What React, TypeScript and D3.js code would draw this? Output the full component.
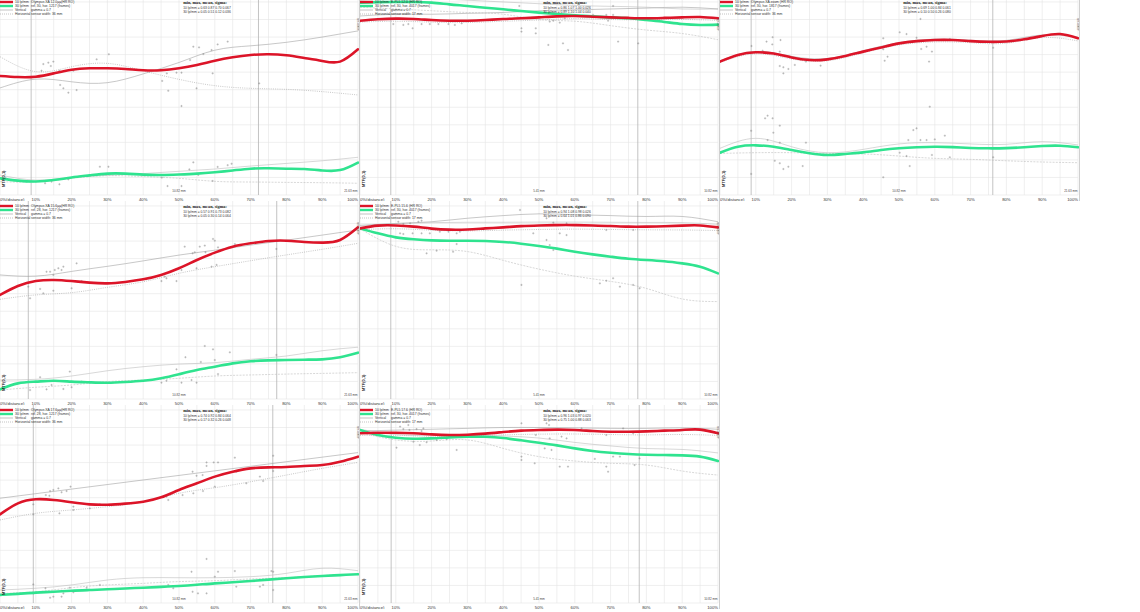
import React from "react";
import * as d3 from "d3";

// ---------- shared axes ----------
const X21 = [0, 5, 10, 15, 20, 25, 30, 35, 40, 45, 50, 55, 60, 65, 70, 75, 80, 85, 90, 95, 100];
const X11 = [0, 10, 20, 30, 40, 50, 60, 70, 80, 90, 100];
const X_GRID = X21;
const Y_GRID = [0, 0.1, 0.2, 0.3, 0.4, 0.5, 0.6, 0.7, 0.8, 0.9, 1.0, 1.1];
const X_TICKS = [0, 10, 20, 30, 40, 50, 60, 70, 80, 90, 100];
const X_TICK_LABELS = ["0%(distance)", "10%", "20%", "30%", "40%", "50%", "60%", "70%", "80%", "90%", "100%"];
const LEGEND_ITEMS = ["10 lp/mm", "30 lp/mm", "Vertical", "Horizontal"];
const STATS_TITLE = "min, max, mean, sigma:";

// ---------- panel 1 ----------
const p1Red = [0.678, 0.672, 0.674, 0.693, 0.714, 0.722, 0.722, 0.718, 0.711, 0.711, 0.722, 0.741, 0.765, 0.785, 0.798, 0.802, 0.796, 0.781, 0.764, 0.76, 0.83];
const p1Green = [0.095, 0.082, 0.077, 0.085, 0.1, 0.112, 0.122, 0.122, 0.116, 0.114, 0.117, 0.122, 0.13, 0.14, 0.15, 0.152, 0.15, 0.148, 0.14, 0.142, 0.185];
const p1RedV = [0.61, 0.66, 0.645, 0.64, 0.69, 0.755, 0.825, 0.85, 0.87, 0.9, 0.935];
const p1RedH = [0.788, 0.703, 0.731, 0.75, 0.708, 0.659, 0.623, 0.608, 0.602, 0.589, 0.57];
const p1GreenV = [0.114, 0.085, 0.1, 0.112, 0.122, 0.135, 0.148, 0.165, 0.18, 0.195, 0.215];
const p1GreenH = [0.076, 0.075, 0.095, 0.11, 0.105, 0.095, 0.078, 0.074, 0.072, 0.07, 0.067];
const p1RedPts = [[12.1, 0.746], [13.5, 0.754], [14.9, 0.76], [11.6, 0.708], [14.2, 0.735], [16.6, 0.708], [16.8, 0.627], [17.7, 0.608], [19.1, 0.583], [21.4, 0.598], [20.5, 0.708], [27, 0.773], [30.4, 0.802], [45.3, 0.65], [47, 0.594], [46.6, 0.693], [49.3, 0.697], [50.7, 0.697], [54, 0.845], [55.6, 0.841], [56.8, 0.803], [59.1, 0.826], [60.8, 0.858], [63.6, 0.874], [53.1, 0.769], [54.9, 0.608], [59.4, 0.693], [72.4, 0.636]];
const p1GreenPts = [[12.6, 0.067], [14.4, 0.076], [16.6, 0.061], [19.1, 0.089], [27.9, 0.161], [30.3, 0.161], [45.2, 0.099], [46.8, 0.051], [50.7, 0.507], [54, 0.186], [52.9, 0.146], [55.4, 0.114], [59.4, 0.08], [60.8, 0.16], [63.6, 0.17], [64.7, 0.178], [50.7, 0.051]];
const p1Marks = [8.7, 72.2];
const p1Text = ["Olympus XA 12.0µµ(HR RO)", "ref. 30, hor. 1217 (frames)", "gamma = 0.7", "sensor width: 36 mm"];
const p1Stats = ["10 lp/mm = 0.63 0.87 0.70 0.067", "30 lp/mm = 0.05 0.51 0.12 0.036"];
const p1Mm = ["10.82 mm", "21.63 mm", "ref.=MTF"];

// ---------- panel 2 ----------
const p2Red = [0.993, 1.001, 1.005, 1.003, 0.997, 0.993, 0.993, 0.997, 1.003, 1.007, 1.012, 1.018, 1.02, 1.016, 1.012, 1.009, 1.007, 1.009, 1.012, 1.014, 1.007];
const p2Green = [1.096, 1.099, 1.1, 1.1, 1.096, 1.086, 1.077, 1.067, 1.058, 1.048, 1.039, 1.031, 1.024, 1.018, 1.012, 1.007, 0.997, 0.986, 0.974, 0.969, 0.971];
const p2RedV = [1.02, 1.03, 1.03, 1.035, 1.04, 1.05, 1.055, 1.06, 1.065, 1.07, 1.06];
const p2RedH = [0.985, 0.99, 0.985, 0.983, 0.99, 0.997, 1.005, 1.0, 0.998, 1.0, 0.995];
const p2GreenV = [1.11, 1.12, 1.12, 1.11, 1.1, 1.09, 1.08, 1.075, 1.07, 1.06, 1.06];
const p2GreenH = [1.07, 1.06, 1.05, 1.04, 1.03, 1.0, 0.99, 0.965, 0.94, 0.92, 0.885];
const p2RedPts = [[9.3, 0.974], [12.1, 0.969], [13.5, 0.974], [14.7, 0.95], [17.2, 0.974], [19.5, 0.974], [21.9, 0.974], [24.7, 0.974], [26.5, 0.969], [28.4, 0.978], [45.1, 0.95], [45.1, 0.931], [49.1, 0.95], [49.1, 0.921], [52.6, 0.855], [56.7, 0.864], [58.1, 0.826], [53, 0.988], [54, 0.993], [55.8, 0.982], [57.2, 1.007], [65.1, 1.026], [68.8, 1.026], [69.3, 0.993], [70.7, 1.026], [72.1, 0.874], [76.3, 1.007], [77.7, 0.864]];
const p2GreenPts = [[70.7, 1.077], [44.5, 1.077]];
const p2Marks = [8.6, 77.6];
const p2Text = ["E-PL5 12.0 (HR RO)", "ref. 30, hor. 4017 (frames)", "gamma = 0.7", "sensor width: 17 mm"];
const p2Stats = ["10 lp/mm = 0.86 1.07 1.00 0.026", "30 lp/mm = 0.89 1.10 1.04 0.040"];
const p2Mm = ["5.41 mm", "10.82 mm", "ref.=MTF"];

// ---------- panel 3 ----------
const p3Red = [0.76, 0.798, 0.813, 0.806, 0.784, 0.769, 0.773, 0.792, 0.817, 0.841, 0.864, 0.877, 0.883, 0.883, 0.877, 0.873, 0.875, 0.887, 0.906, 0.917, 0.893];
const p3Green = [0.241, 0.275, 0.283, 0.275, 0.256, 0.238, 0.228, 0.234, 0.243, 0.256, 0.266, 0.272, 0.275, 0.273, 0.268, 0.266, 0.267, 0.272, 0.279, 0.281, 0.272];
const p3RedV = [0.765, 0.818, 0.79, 0.778, 0.822, 0.868, 0.888, 0.882, 0.881, 0.912, 0.898];
const p3RedH = [0.755, 0.805, 0.775, 0.765, 0.81, 0.855, 0.872, 0.868, 0.865, 0.897, 0.878];
const p3GreenV = [0.266, 0.323, 0.275, 0.241, 0.26, 0.291, 0.298, 0.291, 0.289, 0.304, 0.285];
const p3GreenH = [0.237, 0.241, 0.241, 0.237, 0.234, 0.222, 0.209, 0.203, 0.195, 0.188, 0.184];
const p3RedPts = [[8.8, 0.849], [11.9, 0.822], [13, 0.874], [14.7, 0.899], [16.9, 0.883], [14.6, 0.858], [16.7, 0.817], [16.7, 0.735], [17.7, 0.728], [19.1, 0.718], [17.7, 0.693], [20.3, 0.784], [20.9, 0.741], [24, 0.76], [28.1, 0.737], [45.6, 0.893], [45.6, 0.83], [46, 0.765], [46.8, 0.788], [50.2, 0.927], [52.1, 0.917], [54.9, 0.896], [56, 1.003], [56.2, 0.832], [57.7, 0.845], [58.4, 0.76], [59.2, 0.817], [64.2, 0.889], [76.3, 0.839]];
const p3GreenPts = [[8.7, 0.366], [8.7, 0.12], [12.6, 0.437], [13.3, 0.452], [14.7, 0.437], [16.7, 0.395], [14.9, 0.355], [13.3, 0.313], [16.7, 0.298], [15.3, 0.195], [16.7, 0.181], [17.7, 0.148], [19.1, 0.161], [23.1, 0.165], [24, 0.298], [45.6, 0.101], [50.2, 0.241], [52.1, 0.222], [53, 0.165], [52.6, 0.313], [54, 0.37], [54.9, 0.38], [56, 0.313], [57.7, 0.313], [59.2, 0.228], [58.6, 0.503], [60, 0.317], [62.8, 0.338], [64.2, 0.215], [76.3, 0.215]];
const p3Marks = [8.7, 76.2];
const p3Text = ["Olympus XA zoom (HR RO)", "ref. 30, hor. 1817 (frames)", "gamma = 0.7", "sensor width: 36 mm"];
const p3Stats = ["10 lp/mm = 0.69 1.00 0.84 0.061", "30 lp/mm = 0.10 0.50 0.26 0.080"];
const p3Mm = ["10.82 mm", "21.63 mm", "ref.=MTF"];

// ---------- panel 4 ----------
const p4Red = [0.593, 0.644, 0.672, 0.678, 0.672, 0.663, 0.659, 0.667, 0.682, 0.707, 0.745, 0.792, 0.834, 0.868, 0.887, 0.9, 0.902, 0.895, 0.891, 0.906, 0.978];
const p4Green = [0.055, 0.089, 0.099, 0.104, 0.099, 0.095, 0.093, 0.097, 0.104, 0.118, 0.141, 0.165, 0.184, 0.203, 0.215, 0.22, 0.222, 0.224, 0.226, 0.238, 0.264];
const p4RedV = [0.707, 0.7, 0.727, 0.756, 0.787, 0.82, 0.848, 0.877, 0.905, 0.934, 0.963];
const p4RedH = [0.568, 0.593, 0.606, 0.636, 0.668, 0.716, 0.754, 0.788, 0.821, 0.853, 0.887];
const p4GreenV = [0.108, 0.112, 0.131, 0.161, 0.184, 0.199, 0.207, 0.226, 0.245, 0.275, 0.295];
const p4GreenH = [0.051, 0.067, 0.08, 0.099, 0.108, 0.118, 0.131, 0.137, 0.142, 0.146, 0.15];
const p4RedPts = [[7.9, 0.64], [8.4, 0.574], [11.2, 0.627], [12.1, 0.602], [14.9, 0.617], [13, 0.725], [14, 0.725], [15.3, 0.735], [14.9, 0.707], [16.3, 0.745], [17.7, 0.754], [17.2, 0.735], [20, 0.631], [22.8, 0.672], [21.4, 0.773], [45.1, 0.672], [46, 0.697], [46.5, 0.688], [49.3, 0.672], [51.6, 0.868], [53.8, 0.83], [54.4, 0.836], [55.8, 0.868], [57.2, 0.874], [57.4, 0.836], [59.5, 0.912], [60, 0.902], [59.1, 0.754], [60.9, 0.864], [65.6, 0.883], [77.2, 0.855], [50.7, 0.735], [54.9, 0.745], [60.5, 0.764]];
const p4GreenPts = [[8.4, 0.051], [11.2, 0.124], [13, 0.055], [14.4, 0.08], [17.7, 0.057], [19.5, 0.156], [20, 0.067], [22.8, 0.099], [46.5, 0.104], [45.1, 0.093], [49.3, 0.169], [50.7, 0.093], [51.8, 0.238], [53.5, 0.108], [54.9, 0.093], [56.1, 0.211], [57.2, 0.302], [59.5, 0.283], [60, 0.222], [60.9, 0.142], [64.2, 0.266], [77.2, 0.251]];
const p4Marks = [7.9, 77.3];
const p4Text = ["Olympus XA 15.6µµ(HR RO)", "ref. 28, hor. 1217 (frames)", "gamma = 0.7", "sensor width: 36 mm"];
const p4Stats = ["10 lp/mm = 0.57 0.91 0.73 0.082", "30 lp/mm = 0.05 0.30 0.14 0.064"];
const p4Mm = ["10.82 mm", "21.63 mm", "ref.=MTF"];

// ---------- panel 5 ----------
const p5Red = [0.972, 0.988, 0.989, 0.982, 0.971, 0.965, 0.966, 0.972, 0.978, 0.985, 0.989, 0.991, 0.991, 0.989, 0.986, 0.982, 0.982, 0.984, 0.988, 0.989, 0.978];
const p5Green = [0.972, 0.944, 0.921, 0.91, 0.904, 0.902, 0.902, 0.9, 0.895, 0.885, 0.872, 0.857, 0.839, 0.824, 0.811, 0.799, 0.792, 0.785, 0.773, 0.754, 0.716];
const p5RedV = [0.99, 1.0, 1.01, 1.03, 1.045, 1.055, 1.05, 1.045, 1.04, 1.04, 1.01];
const p5RedH = [0.965, 0.97, 0.962, 0.958, 0.962, 0.966, 0.968, 0.966, 0.964, 0.963, 0.96];
const p5GreenV = [0.985, 1.0, 1.005, 1.007, 1.007, 1.008, 1.008, 1.007, 1.006, 1.005, 0.995];
const p5GreenH = [0.97, 0.87, 0.85, 0.84, 0.79, 0.74, 0.7, 0.67, 0.63, 0.57, 0.555];
const p5RedPts = [[10.7, 1.01], [12.1, 0.997], [14, 1.001], [16.3, 1.01], [17.2, 1.016], [11.2, 0.944], [12.1, 0.94], [14.7, 0.944], [17.2, 0.944], [19.5, 0.944], [22.3, 0.953], [24.7, 0.953], [27, 0.944], [27.9, 0.953], [48.4, 0.944], [55.8, 0.944], [57.7, 0.934], [44.7, 1.077], [52.1, 1.03], [54, 1.005], [57.7, 1.001], [68.8, 0.963], [76.3, 0.963]];
const p5GreenPts = [[27, 0.883], [21.4, 0.845], [18.6, 0.83], [26, 0.839], [45.1, 0.65], [52.1, 0.906], [53, 0.877], [54, 0.849], [68.8, 0.674], [67, 0.659], [70.7, 0.688], [72.6, 0.64], [76.3, 0.65], [78.1, 0.631]];
const p5Marks = [8.6, 77.6];
const p5Text = ["E-PL5 15.6 (HR RO)", "ref. 30, hor. 4017 (frames)", "gamma = 0.7", "sensor width: 17 mm"];
const p5Stats = ["10 lp/mm = 0.94 1.08 0.98 0.026", "30 lp/mm = 0.64 1.01 0.86 0.090"];
const p5Mm = ["5.41 mm", "10.82 mm", "ref.=MTF"];

// ---------- panel 6 ----------
const p6Red = [0.505, 0.568, 0.591, 0.587, 0.574, 0.562, 0.56, 0.566, 0.577, 0.602, 0.644, 0.682, 0.72, 0.748, 0.767, 0.773, 0.775, 0.781, 0.786, 0.805, 0.834];
const p6Green = [0.046, 0.052, 0.059, 0.064, 0.07, 0.074, 0.078, 0.083, 0.087, 0.092, 0.097, 0.104, 0.112, 0.118, 0.125, 0.133, 0.141, 0.148, 0.154, 0.159, 0.164];
const p6RedV = [0.597, 0.623, 0.649, 0.675, 0.701, 0.727, 0.753, 0.779, 0.805, 0.831, 0.857];
const p6RedH = [0.473, 0.511, 0.53, 0.549, 0.577, 0.625, 0.657, 0.691, 0.729, 0.767, 0.801];
const p6GreenV = [0.074, 0.084, 0.103, 0.131, 0.144, 0.144, 0.144, 0.15, 0.169, 0.198, 0.184];
const p6GreenH = [0.055, 0.064, 0.087, 0.103, 0.112, 0.122, 0.127, 0.137, 0.144, 0.156, 0.164];
const p6RedPts = [[9.3, 0.562], [9.3, 0.505], [12.8, 0.615], [13.8, 0.611], [14, 0.638], [14.9, 0.644], [16.3, 0.653], [17.2, 0.631], [16.6, 0.511], [18.6, 0.638], [19.7, 0.663], [20.5, 0.549], [20.5, 0.53], [25.1, 0.539], [27.9, 0.562], [47, 0.587], [46.5, 0.606], [47.6, 0.619], [51, 0.615], [53.8, 0.748], [54.9, 0.725], [56.6, 0.729], [57.7, 0.781], [57.7, 0.801], [59.7, 0.801], [60.9, 0.801], [60, 0.663], [56.7, 0.638], [54, 0.625], [65.6, 0.828], [66, 0.748], [68.8, 0.682], [72.6, 0.72], [73.5, 0.695], [76.3, 0.839], [76.3, 0.771], [76.3, 0.752]];
const p6GreenPts = [[9.3, 0.106], [9.3, 0.055], [12.7, 0.084], [14, 0.03], [14.9, 0.036], [17.2, 0.036], [17.7, 0.055], [19.5, 0.087], [20.5, 0.061], [24.2, 0.087], [27.9, 0.103], [47, 0.103], [48.4, 0.084], [53.5, 0.178], [53.8, 0.064], [54.9, 0.103], [55.3, 0.055], [57.7, 0.251], [57.7, 0.055], [60, 0.15], [60.9, 0.178], [65.6, 0.182], [66, 0.093], [72.6, 0.093], [73.5, 0.103], [75.8, 0.182], [76.3, 0.178], [76.3, 0.074]];
const p6Marks = [9.3, 76.2];
const p6Text = ["Olympus XA 17.6µµ(HR RO)", "ref. 28, hor. 1217 (frames)", "gamma = 0.7", "sensor width: 36 mm"];
const p6Stats = ["10 lp/mm = 0.74 0.92 0.84 0.064", "30 lp/mm = 0.17 0.32 0.26 0.048"];
const p6Mm = ["10.82 mm", "21.63 mm", "ref.=MTF"];

// ---------- panel 7 ----------
const p7Red = [0.967, 0.97, 0.97, 0.967, 0.961, 0.957, 0.959, 0.965, 0.974, 0.982, 0.986, 0.988, 0.986, 0.98, 0.976, 0.976, 0.978, 0.982, 0.986, 0.988, 0.967];
const p7Green = [0.986, 0.957, 0.942, 0.936, 0.938, 0.944, 0.948, 0.947, 0.94, 0.927, 0.913, 0.898, 0.881, 0.866, 0.856, 0.849, 0.845, 0.843, 0.841, 0.834, 0.809];
const p7RedV = [0.98, 0.985, 0.99, 0.995, 1.0, 1.0, 0.998, 0.995, 0.995, 0.998, 0.99];
const p7RedH = [0.955, 0.955, 0.95, 0.952, 0.958, 0.962, 0.963, 0.96, 0.958, 0.96, 0.955];
const p7GreenV = [0.99, 0.96, 0.955, 0.958, 0.952, 0.94, 0.915, 0.895, 0.88, 0.875, 0.855];
const p7GreenH = [0.972, 0.929, 0.923, 0.929, 0.881, 0.834, 0.809, 0.796, 0.786, 0.752, 0.729];
const p7RedPts = [[11.2, 1.005], [12.1, 0.991], [13.5, 1.014], [13.8, 0.986], [15.8, 0.991], [17.2, 0.98], [17.7, 0.995], [45.1, 1.024], [49.1, 0.957], [52.1, 1.024], [52.8, 1.014], [53, 0.938], [56.3, 0.948], [57.7, 0.938], [61.9, 0.995], [68.8, 0.957], [73.5, 0.995], [76.3, 0.967]];
const p7GreenPts = [[10.2, 0.885], [14.9, 0.919], [16.7, 0.9], [18.6, 0.916], [21.4, 0.929], [22.8, 0.938], [24.2, 0.934], [27, 0.872], [45.1, 0.834], [45.1, 0.815], [48.8, 0.796], [51.6, 0.881], [53.5, 0.872], [55.8, 0.777], [58.1, 0.777], [65.6, 0.821], [68.8, 0.777], [69.3, 0.748], [70.7, 0.834], [72.6, 0.834], [78.1, 0.824], [76.7, 0.786]];
const p7Marks = [8.7, 78.0];
const p7Text = ["E-PL5 17.6 (HR RO)", "ref. 30, hor. 4017 (frames)", "gamma = 0.7", "sensor width: 17 mm"];
const p7Stats = ["10 lp/mm = 0.96 1.03 0.97 0.020", "30 lp/mm = 0.75 1.00 0.88 0.063"];
const p7Mm = ["5.41 mm", "10.82 mm", "ref.=MTF"];

// ---------- layout (not data) ----------
const COL_LEFT = [0, 360, 720];
const ROW_TOP = [-3, 201, 405];
const PLOT_W = 358;
const ZERO_Y = 198;
const PX_PER_UNIT = 175.5;
const RED = "#dc1428";
const GREEN = "#2fe38f";
const GRAY = "#9a9a9a";

const panels = [
  { col: 0, row: 0, red: p1Red, green: p1Green, redV: p1RedV, redH: p1RedH, greenV: p1GreenV, greenH: p1GreenH, redPts: p1RedPts, greenPts: p1GreenPts, marks: p1Marks, text: p1Text, stats: p1Stats, mm: p1Mm },
  { col: 1, row: 0, red: p2Red, green: p2Green, redV: p2RedV, redH: p2RedH, greenV: p2GreenV, greenH: p2GreenH, redPts: p2RedPts, greenPts: p2GreenPts, marks: p2Marks, text: p2Text, stats: p2Stats, mm: p2Mm },
  { col: 2, row: 0, red: p3Red, green: p3Green, redV: p3RedV, redH: p3RedH, greenV: p3GreenV, greenH: p3GreenH, redPts: p3RedPts, greenPts: p3GreenPts, marks: p3Marks, text: p3Text, stats: p3Stats, mm: p3Mm },
  { col: 0, row: 1, red: p4Red, green: p4Green, redV: p4RedV, redH: p4RedH, greenV: p4GreenV, greenH: p4GreenH, redPts: p4RedPts, greenPts: p4GreenPts, marks: p4Marks, text: p4Text, stats: p4Stats, mm: p4Mm },
  { col: 1, row: 1, red: p5Red, green: p5Green, redV: p5RedV, redH: p5RedH, greenV: p5GreenV, greenH: p5GreenH, redPts: p5RedPts, greenPts: p5GreenPts, marks: p5Marks, text: p5Text, stats: p5Stats, mm: p5Mm },
  { col: 0, row: 2, red: p6Red, green: p6Green, redV: p6RedV, redH: p6RedH, greenV: p6GreenV, greenH: p6GreenH, redPts: p6RedPts, greenPts: p6GreenPts, marks: p6Marks, text: p6Text, stats: p6Stats, mm: p6Mm },
  { col: 1, row: 2, red: p7Red, green: p7Green, redV: p7RedV, redH: p7RedH, greenV: p7GreenV, greenH: p7GreenH, redPts: p7RedPts, greenPts: p7GreenPts, marks: p7Marks, text: p7Text, stats: p7Stats, mm: p7Mm },
];

const x = d3.scaleLinear().domain([0, 100]).range([0, PLOT_W]);
const y = d3.scaleLinear().domain([0, 1]).range([ZERO_Y, ZERO_Y - PX_PER_UNIT]);
const lineGen = d3
  .line<[number, number]>()
  .x((d) => x(d[0]))
  .y((d) => y(d[1]))
  .curve(d3.curveNatural);

function path(xs: number[], vs: number[]) {
  return lineGen(xs.map((xv, i) => [xv, vs[i]] as [number, number])) || "";
}

function Crosses({ pts }: { pts: number[][] }) {
  return (
    <g stroke="#8c8c8c" strokeWidth={0.45}>
      {pts.map((p, i) => {
        const cx = x(p[0]);
        const cy = y(p[1]);
        return (
          <g key={i}>
            <line x1={cx - 1.1} x2={cx + 1.1} y1={cy} y2={cy} />
            <line x1={cx} x2={cx} y1={cy - 1.1} y2={cy + 1.1} />
          </g>
        );
      })}
    </g>
  );
}

function Panel({ p, idx }: { p: any; idx: number }) {
  const left = COL_LEFT[p.col];
  const top = ROW_TOP[p.row];
  const clipId = `pclip${idx}`;
  const legendY = [5, 9, 13, 17];
  return (
    <g transform={`translate(${left},${top})`}>
      <defs>
        <clipPath id={clipId}>
          <rect x={0} y={0} width={359} height={204} />
        </clipPath>
      </defs>
      <rect x={0} y={0} width={359} height={204} fill="#fff" />
      <g clipPath={`url(#${clipId})`}>
        {/* grid */}
        <g stroke="#e4e4e4" strokeWidth={0.6}>
          {X_GRID.map((g) => (
            <line key={"gx" + g} x1={x(g)} x2={x(g)} y1={0} y2={ZERO_Y} />
          ))}
          {Y_GRID.map((g) => (
            <line key={"gy" + g} x1={0} x2={PLOT_W} y1={y(g)} y2={y(g)} />
          ))}
        </g>
        {/* marker lines */}
        <g stroke="#b4b4b4" strokeWidth={0.8}>
          {p.marks.map((m: number, i: number) => (
            <line key={i} x1={x(m)} x2={x(m)} y1={0} y2={ZERO_Y} />
          ))}
        </g>
        {/* thin gray lines */}
        <g fill="none" stroke={GRAY} strokeWidth={0.55}>
          <path d={path(X11, p.redV)} />
          <path d={path(X11, p.redH)} strokeDasharray="1 1.2" />
          <path d={path(X11, p.greenV)} stroke="#b8b8b8" />
          <path d={path(X11, p.greenH)} stroke="#b8b8b8" strokeDasharray="2 1.2" />
        </g>
        <Crosses pts={p.redPts} />
        <Crosses pts={p.greenPts} />
        {/* main curves */}
        <path d={path(X21, p.green)} fill="none" stroke={GREEN} strokeWidth={2.6} strokeLinecap="round" />
        <path d={path(X21, p.red)} fill="none" stroke={RED} strokeWidth={2.6} strokeLinecap="round" />

        {/* legend */}
        <g fontFamily="Liberation Sans, Arial, sans-serif" fontSize={3.4} fill="#333">
          <line x1={0} x2={13} y1={legendY[0]} y2={legendY[0]} stroke={RED} strokeWidth={2.4} />
          <line x1={0} x2={13} y1={legendY[1]} y2={legendY[1]} stroke={GREEN} strokeWidth={2.4} />
          <line x1={0} x2={13} y1={legendY[2]} y2={legendY[2]} stroke={GRAY} strokeWidth={0.6} />
          <line x1={0} x2={13} y1={legendY[3]} y2={legendY[3]} stroke={GRAY} strokeWidth={0.6} strokeDasharray="1 1" />
          {LEGEND_ITEMS.map((t, i) => (
            <text key={"li" + i} x={15} y={legendY[i] + 1.2}>{t}</text>
          ))}
          {p.text.map((t: string, i: number) => (
            <text key={"lt" + i} x={31} y={legendY[i] + 1.2}>{t}</text>
          ))}
        </g>
        {/* stats */}
        <text x={205} y={7.2} textAnchor="middle" fontFamily="Liberation Serif, Times New Roman, serif" fontWeight="bold" fontSize={4.3} fill="#222">
          {STATS_TITLE}
        </text>
        <g fontFamily="Liberation Sans, Arial, sans-serif" fontSize={3.3} fill="#333" textAnchor="middle">
          <text x={207} y={11.8}>{p.stats[0]}</text>
          <text x={207} y={16.3}>{p.stats[1]}</text>
        </g>
        {/* side labels */}
        <text transform={`translate(356.5,21) rotate(90)`} fontFamily="Liberation Sans, Arial, sans-serif" fontSize={3.2} fill="#444">
          {p.mm[2]}
        </text>
        <text transform={`translate(4.6,${ZERO_Y - 8}) rotate(-90)`} fontFamily="Liberation Sans, Arial, sans-serif" fontWeight="bold" fontSize={4} fill="#222">
          MTF(0,1)
        </text>
        <g fontFamily="Liberation Sans, Arial, sans-serif" fontSize={3} fill="#444">
          <text x={x(50)} y={ZERO_Y - 3.5} textAnchor="middle">{p.mm[0]}</text>
          <text x={x(100) - 0.5} y={ZERO_Y - 3.5} textAnchor="end">{p.mm[1]}</text>
        </g>
        {/* x tick labels */}
        <g fontFamily="Liberation Sans, Arial, sans-serif" fontSize={4.2} fill="#333">
          {X_TICKS.map((t, i) => (
            <text
              key={"xt" + t}
              x={i === 0 ? 0 : x(t)}
              y={ZERO_Y + 5.6}
              textAnchor={i === 0 ? "start" : i === X_TICKS.length - 1 ? "end" : "middle"}
            >
              {X_TICK_LABELS[i]}
            </text>
          ))}
        </g>
      </g>
      <line x1={359.5} x2={359.5} y1={0} y2={204} stroke="#d0d0d0" strokeWidth={1} />
    </g>
  );
}

export default function App() {
  return (
    <svg
      width={1140}
      height={612}
      viewBox="0 0 1140 612"
      style={{ position: "absolute", left: 0, top: 0, background: "#fff" }}
    >
      <rect x={0} y={0} width={1140} height={612} fill="#fff" />
      {panels.map((p, i) => (
        <Panel key={i} p={p} idx={i} />
      ))}
    </svg>
  );
}
